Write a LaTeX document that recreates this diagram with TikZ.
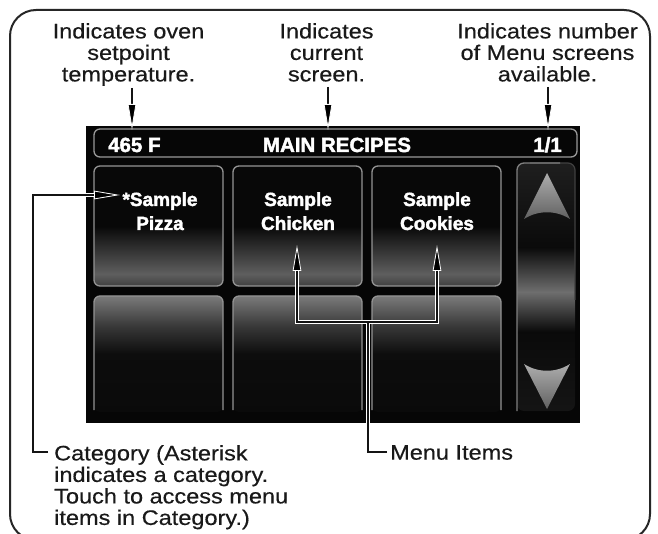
\documentclass[tikz,border=0pt]{standalone}
\usepackage{fontspec}
\setmainfont{Liberation Sans}
\newfontfamily\annot{Liberation Sans}[FakeStretch=1.12, FakeBold=0.4]
\newfontfamily\hdr{Liberation Sans Bold}[FakeBold=2]
\usetikzlibrary{arrows.meta,calc}
\definecolor{scr}{HTML}{060606}
\pgfdeclareverticalshading{btnA}{100bp}{color(0bp)=(black!75); color(25bp)=(black!75); color(30bp)=(black!63); color(50bp)=(black!97); color(75bp)=(black!97); color(100bp)=(black!97)}
\pgfdeclareverticalshading{btnB}{100bp}{color(0bp)=(black!96); color(25bp)=(black!96); color(50bp)=(black!95); color(62bp)=(black!78); color(75bp)=(black!52); color(100bp)=(black!52)}
\pgfdeclareverticalshading{colS}{100bp}{color(0bp)=(black!92); color(25bp)=(black!92); color(41bp)=(black!96); color(49bp)=(black!57); color(58bp)=(black!96); color(75bp)=(black!88); color(100bp)=(black!88)}
\begin{document}
\begin{tikzpicture}[x=1pt,y=-1pt,
  annotxt/.style={font=\annot\fontsize{21}{21.5}\selectfont, text=black!90, inner sep=0pt, align=center},
  btntxt/.style={font=\hdr\fontsize{19}{24}\selectfont, text=white, inner sep=0pt, align=center},
  hdrtxt/.style={font=\hdr\fontsize{20.5}{24}\selectfont, text=white, inner sep=0pt},
  halo/.style={draw=white, line width=4pt},
  core/.style={draw=black!92, line width=1.5pt},
  tipd/.style={>={Triangle[length=26pt,width=8.5pt,color=white,fill=black,line width=0.8pt]}},
  rim/.style={draw=black!42, line width=1.3pt, rounded corners=6pt},
  trishade/.style={top color=black!32, bottom color=black!62},
]
\clip (0,0) rectangle (658,534);
\fill[white] (0,0) rectangle (658,534);
% outer frame
\draw[black!85, line width=2pt, rounded corners=26pt] (10,10) rectangle (650,540);
% screen
\fill[scr] (86,126) rectangle (580,423);
% header bar
\draw[black!40, line width=1.3pt, rounded corners=6pt] (94,129) rectangle (577,157);
% buttons
\foreach \x in {94,233,372} {
  \shade[shading=btnA, rounded corners=6pt] (\x,166) rectangle ++(129,120);
  \draw[rim] (\x,166) rectangle ++(129,120);
  \shade[shading=btnB, rounded corners=6pt] (\x,296) rectangle ++(129,116);
  \draw[rim] (\x,410) -- (\x,296) -- ({\x+129},296) -- ({\x+129},410);
}
% scroll column
\shade[shading=colS, rounded corners=7pt] (517,163) rectangle (575,411);
\draw[black!75, line width=1.2pt, rounded corners=7pt] (575,300) -- (575,163) -- (530,163);
\draw[black!50, line width=1.3pt, rounded corners=7pt] (517,411) -- (517,163) -- (560,163);
\shade[trishade] (547,173) -- (570,219) .. controls (556,210) and (538,210) .. (524,219) -- cycle;
\shade[trishade] (547,409) -- (570,364) .. controls (556,373) and (538,373) .. (524,364) -- cycle;
% header texts
\node[hdrtxt, anchor=base west] (temp) at (108,152) {465 F};
\node[hdrtxt, anchor=base] (title) at (337,152) {MAIN RECIPES};
\node[hdrtxt, anchor=base east] (pages) at (562,152) {1/1};
% button texts
\node[btntxt, anchor=north] (pizza) at (160,192) {*Sample\\Pizza};
\node[btntxt, anchor=north] (chicken) at (298,192) {Sample\\Chicken};
\node[btntxt, anchor=north] (cookies) at (437,192) {Sample\\Cookies};
% annotations
\node[annotxt, anchor=north] (tl) at (128.5,23) {Indicates oven\\setpoint\\temperature.};
\node[annotxt, anchor=north] (tm) at (326.5,23) {Indicates\\current\\screen.};
\node[annotxt, anchor=north] (tr) at (547.5,23) {Indicates number\\of Menu screens\\available.};
\node[annotxt, anchor=north west, align=left] (cat) at (54,445) {Category (Asterisk\\indicates a category.\\Touch to access menu\\items in Category.)};
\node[annotxt, anchor=north west, align=left] (menu) at (390,445) {Menu Items};
% connector points
\coordinate (tipT) at (132,130);
\coordinate (tipM) at (328,130);
\coordinate (tipR) at (548,130);
\coordinate (catV) at (33,195);
\coordinate (catTip) at (120,195);
\coordinate (mJ) at (368,322);
\coordinate (mL) at (297,322);
\coordinate (mR) at (437,322);
\coordinate (tipC) at (297,245);
\coordinate (tipK) at (437,245);
% halos
\draw[halo, shorten >=12pt] ([xshift=-6pt,yshift=-7pt]cat.north west) -| (catV) -- (catTip);
\draw[halo] ([xshift=-3pt,yshift=-7pt]menu.north west) -| (mJ);
\draw[halo, shorten >=12pt, shorten <=12pt] (tipC) -- (mL) -- (mR) -- (tipK);
% cores
\draw[core, tipd, ->] ([yshift=-2pt]tl.south -| tipT) -- (tipT);
\draw[core, tipd, ->] ([yshift=-5pt]tm.south -| tipM) -- (tipM);
\draw[core, tipd, ->] ([yshift=-5pt]tr.south -| tipR) -- (tipR);
\draw[core, tipd, ->] ([xshift=-6pt,yshift=-7pt]cat.north west) -| (catV) -- (catTip);
\draw[core] ([xshift=-3pt,yshift=-7pt]menu.north west) -| (mJ);
\draw[core, tipd, <->] (tipC) -- (mL) -- (mR) -- (tipK);
\end{tikzpicture}
\end{document}
